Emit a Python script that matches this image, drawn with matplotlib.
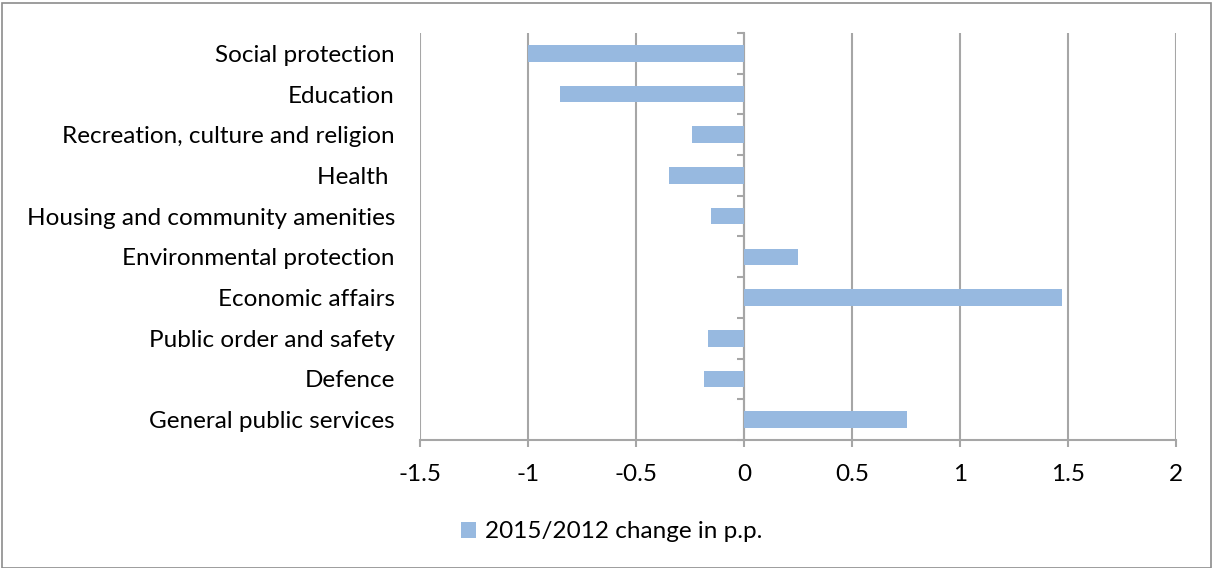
import matplotlib
matplotlib.use("Agg")
import matplotlib.pyplot as plt
import numpy as np

categories = [
    "General public services",
    "Defence",
    "Public order and safety",
    "Economic affairs",
    "Environmental protection",
    "Housing and community amenities",
    "Health ",
    "Recreation, culture and religion",
    "Education",
    "Social protection",
]
change_pp = [0.755, -0.185, -0.167, 1.472, 0.251, -0.153, -0.346, -0.241, -0.853, -1.0]
series_name = "2015/2012 change in p.p."
x_ticks = [-1.5, -1, -0.5, 0, 0.5, 1, 1.5, 2]
x_labels = ["-1.5", "-1", "-0.5", "0", "0.5", "1", "1.5", "2"]

BAR = "#97B9E0"
GRID = "#A6A6A6"
FS = 17.5
plt.rcParams["font.family"] = ["Lato", "DejaVu Sans"]

fig = plt.figure(figsize=(12.12, 5.68), dpi=100)
ax = fig.add_axes([420 / 1212, 1 - 440 / 568, 756 / 1212, 407 / 568])

y = np.arange(len(categories))
ax.barh(y, change_pp, height=0.41, color=BAR, label=series_name, zorder=3)

ax.set_xlim(x_ticks[0], x_ticks[-1])
ax.set_ylim(-0.5, len(categories) - 0.5)
ax.set_xticks(x_ticks)
ax.set_xticklabels(x_labels, fontsize=FS)
ax.set_yticks(y)
ax.set_yticklabels(categories, fontsize=FS)
ax.tick_params(axis="y", length=0, pad=18)
ax.tick_params(axis="x", length=5, color=GRID, width=1.5, pad=12)
ax.grid(axis="x", color=GRID, lw=1.5, zorder=0)
for s in ["top", "right", "left"]:
    ax.spines[s].set_visible(False)
ax.spines["bottom"].set_color(GRID)
ax.spines["bottom"].set_linewidth(1.5)

# vertical category axis sitting at x = 0
zero_pos = (0 - x_ticks[0]) / (x_ticks[-1] - x_ticks[0])
sec = ax.secondary_yaxis(zero_pos)
sec.set_yticks(np.arange(len(categories) + 1) - 0.5)
sec.set_yticklabels([])
sec.tick_params(length=5, color=GRID, width=1.5)
sec.spines["left"].set_color(GRID)
sec.spines["left"].set_linewidth(1.5)

fig.legend(loc="center", bbox_to_anchor=(612 / 1212, 1 - 532 / 568), frameon=False,
           fontsize=FS, handlelength=0.6, handleheight=0.6, handletextpad=0.4)

# chart area border
fig.patches.append(plt.Rectangle((2 / 1212, 0), 1 - 3 / 1212, 1 - 3 / 568,
                                 transform=fig.transFigure, fill=False,
                                 edgecolor="#8C8C8C", lw=1.2))

fig.savefig("out.png", dpi=100)
